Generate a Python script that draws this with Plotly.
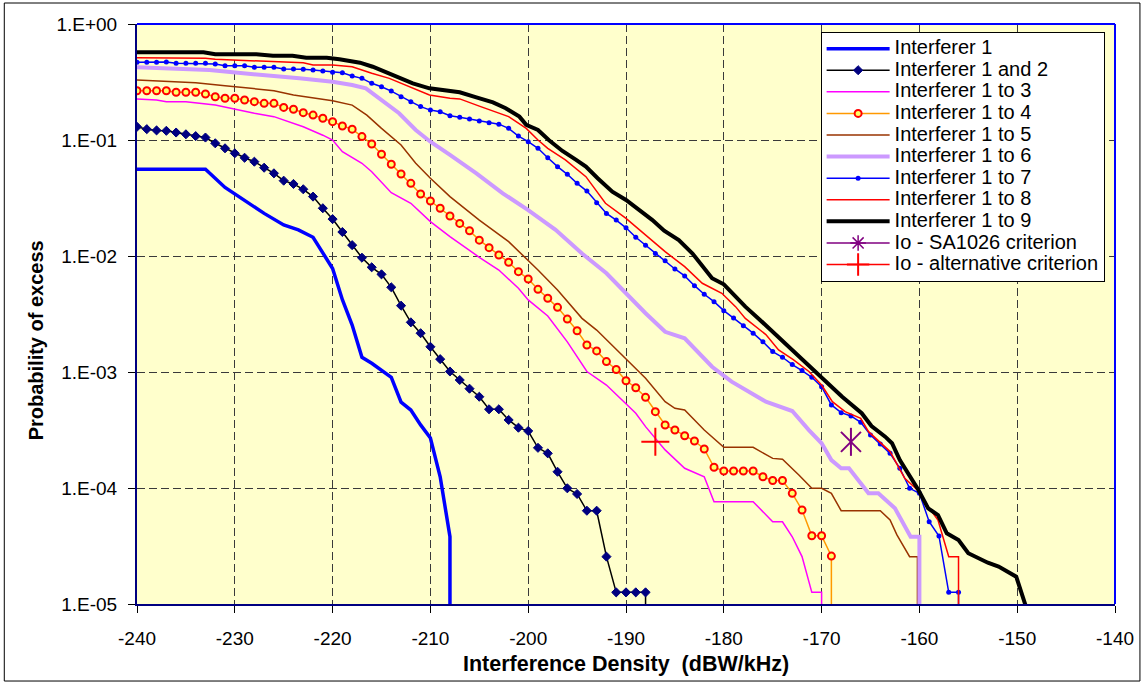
import plotly.graph_objects as go

# ---------------- data ----------------
# x: Interference Density (dBW/kHz); y: Probability of excess (0 = curve ends / drops off)
int1_x = [-240, -233, -231, -229, -227, -225, -223.5, -222, -220, -219, -218, -217, -216,
          -214, -213, -212, -211, -210, -209, -208, -208]
int1_y = [0.056, 0.056, 0.039, 0.030, 0.0233, 0.0185, 0.0168, 0.0145, 0.0078, 0.0042, 0.00254,
          0.00134, 0.00119, 0.0009, 0.00055, 0.00047, 0.00035, 0.00027, 0.000125, 0.000038, 0]

int12_x = [-240, -239, -238, -237, -236, -235, -234, -233, -232, -231,
           -230, -229, -228, -227, -226, -225, -224, -223, -222, -221,
           -220, -219, -218, -217, -216, -215, -214, -213, -212, -211,
           -210, -209, -208, -207, -206, -205, -204, -203, -202, -201,
           -200, -199, -198, -197, -196, -195, -194, -193, -192, -191,
           -190, -189, -188, -188]
int12_y = [0.130, 0.124, 0.121, 0.120, 0.116, 0.112, 0.108, 0.105, 0.0937, 0.0848,
           0.0768, 0.0703, 0.0650, 0.0577, 0.0516, 0.0446, 0.0418, 0.0376, 0.0325, 0.0258,
           0.0208, 0.0161, 0.0124, 0.00967, 0.00799, 0.00695, 0.00537, 0.00373, 0.00268, 0.00216,
           0.00165, 0.00129, 0.00101, 0.000853, 0.000718, 0.000612, 0.000477, 0.000477, 0.000386, 0.000331,
           0.000310, 0.000222, 0.000199, 0.000138, 0.0000994, 0.0000888, 0.0000637, 0.0000637, 0.0000256, 0.0000126,
           0.0000126, 0.0000126, 0.0000126, 0]

int13_x = [-240, -238, -237, -235, -232, -230, -228, -226, -223, -221, -220, -219, -217, -216,
           -214, -212, -210, -208, -205, -203, -201, -200, -198, -196, -195, -194, -192, -190,
           -189, -188, -187, -186, -184, -182, -181, -177, -175, -174, -173, -172, -171, -170, -170]
int13_y = [0.226, 0.221, 0.214, 0.214, 0.200, 0.184, 0.170, 0.159, 0.130, 0.110, 0.100, 0.0793,
           0.0630, 0.0533, 0.0351, 0.0285, 0.0198, 0.0147, 0.00975, 0.00757, 0.00527, 0.00418,
           0.00304, 0.00182, 0.00136, 0.00101, 0.000772, 0.000537, 0.000441, 0.000338, 0.000268,
           0.000213, 0.000148, 0.000125, 0.0000762, 0.0000762, 0.0000512, 0.0000512, 0.000038,
           0.0000256, 0.0000126, 0.0000126, 0]

int14_x = [-240, -239, -238, -237, -236, -235, -234, -233, -232, -231,
           -230, -229, -228, -227, -226, -225, -224, -223, -222, -221,
           -220, -219, -218, -217, -216, -215, -214, -213, -212, -211,
           -210, -209, -208, -207, -206, -205, -204, -203, -202, -201,
           -200, -199, -198, -197, -196, -195, -194, -193, -192, -191,
           -190, -189, -188, -187, -186, -185, -184, -183, -182, -181,
           -180, -179, -178, -177, -176, -175, -174, -173, -172, -171,
           -170, -169, -169]
int14_y = [0.266, 0.266, 0.266, 0.266, 0.258, 0.258, 0.258, 0.249, 0.236, 0.229,
           0.229, 0.221, 0.214, 0.207, 0.207, 0.191, 0.184, 0.172, 0.164, 0.154,
           0.144, 0.132, 0.124, 0.107, 0.0924, 0.0753, 0.0618, 0.0509, 0.0423, 0.0342,
           0.0298, 0.0258, 0.0221, 0.0191, 0.0165, 0.0137, 0.0118, 0.0102, 0.00883, 0.00733,
           0.00634, 0.00516, 0.00432, 0.00361, 0.00286, 0.00227, 0.00171, 0.00152, 0.00123, 0.00105,
           0.000841, 0.000732, 0.000605, 0.000455, 0.000349, 0.000316, 0.000282, 0.000254, 0.000217, 0.000151,
           0.000140, 0.000140, 0.000140, 0.000140, 0.000125, 0.000116, 0.000116, 0.0000900, 0.0000646, 0.0000388,
           0.0000388, 0.0000259, 0]

int15_x = [-240, -237, -234, -231, -228.5, -226, -224, -222, -220, -218, -216.5, -215, -213,
           -211.5, -210, -208, -205, -202, -199, -197, -194.5, -193, -190, -188, -186, -185,
           -184, -182, -180, -177, -175, -174, -172.3, -171, -170, -169, -168, -164, -163,
           -162.3, -161, -160.2, -160.2]
int15_y = [0.329, 0.318, 0.312, 0.294, 0.279, 0.266, 0.244, 0.232, 0.218, 0.200, 0.164, 0.126,
           0.0906, 0.0630, 0.0468, 0.0325, 0.0204, 0.0133, 0.00757, 0.00509, 0.00290, 0.00230,
           0.00131, 0.000883, 0.000555, 0.000486, 0.000470, 0.000316, 0.000224, 0.000224,
           0.000180, 0.000177, 0.000129, 0.0000994, 0.0000994, 0.0000900, 0.0000637, 0.0000637,
           0.0000530, 0.0000394, 0.0000256, 0.0000256, 0]

int16_x = [-240, -237, -232.6, -230.2, -226.8, -223.4, -220, -218, -216.6, -215, -213.2, -211.5,
           -210, -208, -205.3, -202.6, -200, -197.2, -194.5, -192, -190, -188, -186, -184, -181.2,
           -179.2, -175.7, -173, -171.3, -170, -169, -168, -167.2, -165.2, -164.2, -162.5, -160.9,
           -160, -160]
int16_y = [0.423, 0.415, 0.401, 0.383, 0.363, 0.340, 0.318, 0.298, 0.279, 0.221, 0.170, 0.122,
           0.0967, 0.0743, 0.0516, 0.0347, 0.0249, 0.0168, 0.0105, 0.00710, 0.00477, 0.00321,
           0.00222, 0.00195, 0.00111, 0.000825, 0.000555, 0.000461, 0.000316, 0.000243, 0.000174,
           0.000148, 0.000148, 0.0000900, 0.0000900, 0.0000668, 0.0000380, 0.0000380, 0]

int17_x = [-240, -239, -238, -237, -236, -235, -234, -233, -232, -231,
           -230, -229, -228, -227, -226, -225, -224, -223, -222, -221,
           -220, -219, -218, -217, -216, -215, -214, -213, -212, -211,
           -210, -209, -208, -207, -206, -205, -204, -203, -202, -201,
           -200, -199, -198, -197, -196, -195, -194, -193, -192, -191,
           -190, -189, -188, -187, -186, -185, -184, -183, -182, -181,
           -180, -179, -178, -177, -176, -175, -174, -173, -172, -171,
           -170, -169, -168, -167, -166, -165, -164, -163, -162, -161,
           -160, -159, -158, -157, -156, -156]
int17_y = [0.468, 0.468, 0.468, 0.470, 0.458, 0.458, 0.458, 0.458, 0.452, 0.437,
           0.437, 0.437, 0.423, 0.423, 0.423, 0.409, 0.409, 0.407, 0.401, 0.394,
           0.383, 0.380, 0.356, 0.340, 0.308, 0.288, 0.264, 0.236, 0.214, 0.194,
           0.181, 0.175, 0.162, 0.157, 0.152, 0.146, 0.141, 0.137, 0.126, 0.108,
           0.0967, 0.0848, 0.0703, 0.0589, 0.0506, 0.0423, 0.0363, 0.0288, 0.0233, 0.0204,
           0.0175, 0.0145, 0.0124, 0.0105, 0.00911, 0.00773, 0.00673, 0.00555, 0.00468, 0.00404,
           0.00338, 0.00292, 0.00251, 0.00216, 0.00182, 0.00150, 0.00134, 0.00116, 0.00103, 0.000900,
           0.000747, 0.000520, 0.000446, 0.000418, 0.000368, 0.000286, 0.000239, 0.000199, 0.000148, 0.0000994,
           0.0000900, 0.0000512, 0.0000386, 0.0000126, 0.0000126, 0]

int18_x = [-240, -233, -232, -225, -223, -222, -220, -218, -216, -214.2, -210.1, -208, -207, -205,
           -202, -200.2, -199, -198, -196.2, -194.1, -192.1, -190, -188, -186, -184, -182.2,
           -180.2, -178.8, -177.8, -175.7, -174.4, -172.9, -171.3, -170, -168.9, -167.6, -166,
           -165.2, -163, -161.5, -160, -159.1, -158.1, -157, -156, -156]
int18_y = [0.512, 0.506, 0.496, 0.473, 0.464, 0.443, 0.443, 0.428, 0.376, 0.340, 0.244, 0.229,
           0.226, 0.196, 0.159, 0.126, 0.100, 0.0848, 0.0673, 0.0483, 0.0285, 0.0211, 0.0152,
           0.0109, 0.00809, 0.00582, 0.00477, 0.00366, 0.00290, 0.0021, 0.00155, 0.00128, 0.00101,
           0.000772, 0.000555, 0.000455, 0.000399, 0.000306, 0.000206, 0.000121, 0.0000929,
           0.0000690, 0.0000530, 0.0000256, 0.0000256, 0]

int19_x = [-240, -233.2, -232, -227.8, -226.1, -224.1, -222.7, -220.6, -219.3, -217.2, -215.9,
           -214.2, -211.8, -210.1, -208.1, -207, -205.3, -203.6, -202.3, -200.9, -200.2, -199,
           -197.9, -196.5, -195.1, -194.1, -192.9, -191.4, -190, -188.7, -187.3, -186.1, -184.6,
           -183.2, -182.2, -181.2, -180, -178.8, -177.8, -176.3, -174.4, -172.2, -170, -167.9,
           -165.9, -164.9, -163.5, -162.8, -162, -161, -160.1, -159.1, -158.1, -157.2, -156,
           -155, -153, -151.9, -150.1, -148.9]
int19_y = [0.570, 0.570, 0.548, 0.548, 0.533, 0.533, 0.512, 0.512, 0.496, 0.464, 0.428, 0.376,
           0.308, 0.279, 0.264, 0.258, 0.233, 0.211, 0.188, 0.159, 0.135, 0.122, 0.100, 0.0804,
           0.0673, 0.0589, 0.0468, 0.0358, 0.0304, 0.0249, 0.0204, 0.0165, 0.0137, 0.0105,
           0.00809, 0.00643, 0.00570, 0.00446, 0.00366, 0.00281, 0.00199, 0.00131, 0.000883,
           0.000612, 0.000441, 0.000342, 0.000277, 0.000243, 0.000174, 0.000129, 0.0000961,
           0.0000668, 0.0000585, 0.0000407, 0.0000356, 0.0000274, 0.0000227, 0.0000210,
           0.0000172, 0.0000084]

sa1026_x = [-167]
sa1026_y = [0.00025]
alt_x = [-187]
alt_y = [0.00025]

x_ticks = [-240, -230, -220, -210, -200, -190, -180, -170, -160, -150, -140]
x_ticktext = ["-240", "-230", "-220", "-210", "-200", "-190", "-180", "-170", "-160", "-150", "-140"]
y_tickvals = [1, 0.1, 0.01, 0.001, 0.0001, 0.00001]
y_ticktext = ["1.E+00", "1.E-01", "1.E-02", "1.E-03", "1.E-04", "1.E-05"]

# ---------------- figure ----------------
FONT = "Liberation Sans, Arial, sans-serif"
LEGEND_TEXT = '<span style="font-size:20px">{}</span>'


def pos(vals):
    # zero probability cannot be shown on a log axis: send it far below the axis
    return [v if v > 0 else 1e-12 for v in vals]


fig = go.Figure()


def add_line(name, xs, ys, color, width, marker=None):
    fig.add_trace(go.Scatter(
        x=xs, y=pos(ys), name=LEGEND_TEXT.format(name),
        mode="lines+markers" if marker else "lines",
        line=dict(color=color, width=width),
        marker=marker,
    ))


add_line("Interferer 1", int1_x, int1_y, "#0000FF", 3.5)
add_line("Interferer 1 and 2", int12_x, int12_y, "#000000", 1.5,
         dict(symbol="diamond", size=7, color="#000080", line=dict(color="#000080", width=1)))
add_line("Interferer 1 to 3", int13_x, int13_y, "#FF00FF", 1.5)
add_line("Interferer 1 to 4", int14_x, int14_y, "#FF9900", 1.5,
         dict(symbol="circle", size=7, color="#FFFF66", line=dict(color="#FF0000", width=2)))
add_line("Interferer 1 to 5", int15_x, int15_y, "#993300", 1.5)
add_line("Interferer 1 to 6", int16_x, int16_y, "#CC99FF", 4)
add_line("Interferer 1 to 7", int17_x, int17_y, "#0000FF", 1.5,
         dict(symbol="circle", size=5, color="#0000FF"))
add_line("Interferer 1 to 8", int18_x, int18_y, "#FF0000", 1.5)
add_line("Interferer 1 to 9", int19_x, int19_y, "#000000", 4)

# SA1026 criterion point: legend entry shows the asterisk, the point is drawn as x + vertical bar
fig.add_trace(go.Scatter(
    x=[None], y=[None], name=LEGEND_TEXT.format("Io - SA1026 criterion"), mode="lines+markers",
    line=dict(color="#800080", width=1.5),
    marker=dict(symbol="asterisk-open", size=13, color="#800080", line=dict(color="#800080", width=1.5)),
))
for sym in ["x-thin-open", "line-ns-open"]:
    fig.add_trace(go.Scatter(
        x=sa1026_x, y=sa1026_y, mode="markers", showlegend=False,
        name="Io - SA1026 criterion",
        marker=dict(symbol=sym, size=20, color="#800080", line=dict(color="#800080", width=2)),
    ))

fig.add_trace(go.Scatter(
    x=alt_x, y=alt_y, name=LEGEND_TEXT.format("Io - alternative criterion"), mode="lines+markers",
    line=dict(color="#FF0000", width=1.5),
    marker=dict(symbol="cross-thin-open", size=20, color="#FF0000", line=dict(color="#FF0000", width=2)),
))

grid = dict(showgrid=True, gridcolor="#3a3a3a", gridwidth=1, griddash="8px,4px")

fig.update_xaxes(
    range=[-240, -140], tickvals=x_ticks, ticktext=x_ticktext, ticks="outside", ticklen=7,
    tickcolor="#000",
    tickfont=dict(family=FONT, size=19, color="#000"), ticklabelstandoff=9,
    showline=True, linecolor="#000080", linewidth=2, zeroline=False,
    title=dict(text="Interference Density  (dBW/kHz)",
               font=dict(family=FONT, size=21.5, color="#000", weight="bold"), standoff=8),
    **grid,
)
fig.update_yaxes(
    type="log", range=[-5, 0], tickvals=y_tickvals, ticktext=y_ticktext,
    ticks="outside", ticklen=7, tickcolor="#000",
    tickfont=dict(family=FONT, size=19, color="#000"), ticklabelstandoff=7,
    showline=True, linecolor="#000080", linewidth=2, zeroline=False,
    **grid,
)

fig.update_layout(
    width=1146, height=684,
    margin=dict(l=137, r=29, t=24, b=80),
    paper_bgcolor="#FFFFFF", plot_bgcolor="#FFFFCC",
    font=dict(family=FONT, color="#000"),
    showlegend=True,
    legend=dict(
        x=0.699, y=0.9865, xanchor="left", yanchor="top",
        bgcolor="#FFFFFF", bordercolor="#000000", borderwidth=1,
        font=dict(family=FONT, size=14.3, color="#000"),
        itemwidth=63, tracegroupgap=0,
    ),
    annotations=[
        dict(text="<b>Probability of excess</b>", textangle=-90,
             xref="paper", yref="paper", x=-0.103, y=0.455,
             xanchor="center", yanchor="middle", showarrow=False,
             font=dict(family=FONT, size=20, color="#000")),
    ],
    shapes=[
        # blue top and right borders of the plot area
        dict(type="line", xref="paper", yref="paper", x0=0, x1=1, y0=1, y1=1,
             line=dict(color="#0000FF", width=2), layer="above"),
        dict(type="line", xref="paper", yref="paper", x0=1, x1=1, y0=0, y1=1,
             line=dict(color="#0000FF", width=2), layer="above"),
        # thin black frame around the whole chart
        dict(type="rect", xref="paper", yref="paper",
             x0=-0.1357, x1=1.0255, y0=-0.1328, y1=1.0362,
             line=dict(color="#000000", width=1), fillcolor="rgba(0,0,0,0)", layer="below"),
    ],
)

fig.write_html("out.html")
